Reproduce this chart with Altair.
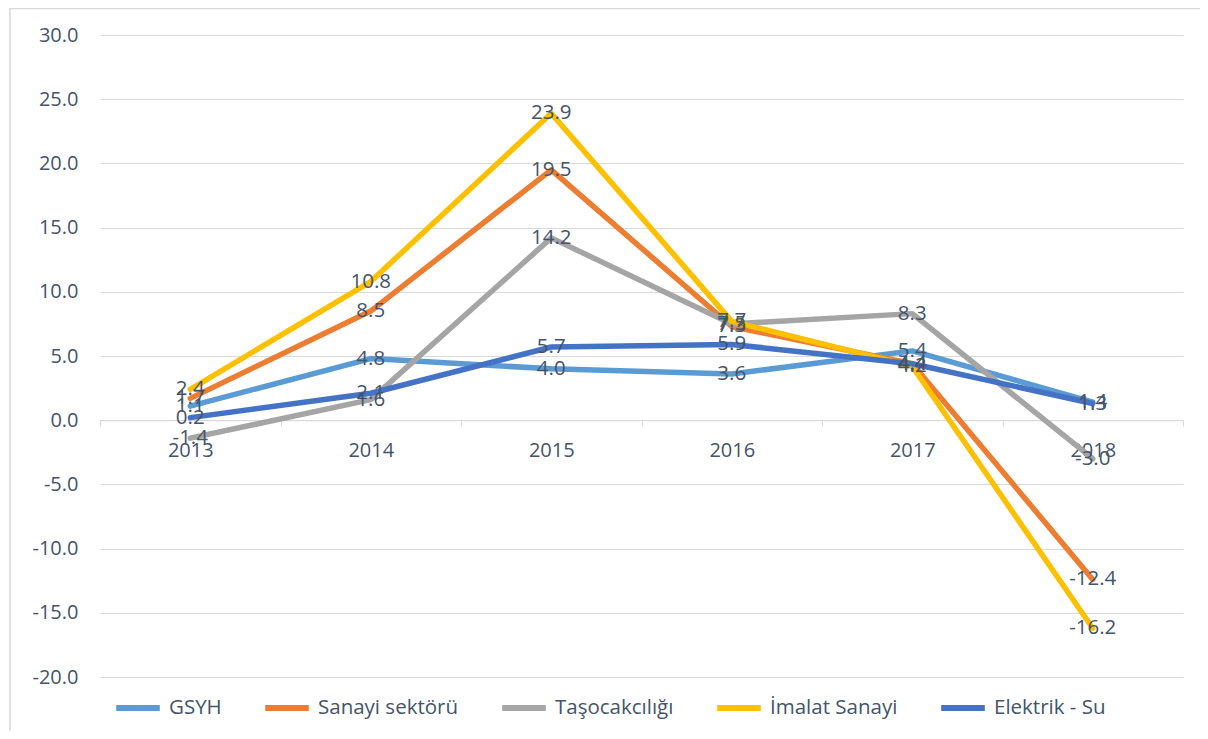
import altair as alt
import pandas as pd

years = ["2013", "2014", "2015", "2016", "2017", "2018"]
series = ["GSYH", "Sanayi sektörü", "Taşocakcılığı", "İmalat Sanayi", "Elektrik - Su"]
gsyh = [1.1, 4.8, 4.0, 3.6, 5.4, 1.4]
sanayi = [1.7, 8.5, 19.5, 7.3, 4.4, -12.4]
tasocak = [-1.4, 1.6, 14.2, 7.5, 8.3, -3.0]
imalat = [2.4, 10.8, 23.9, 7.7, 4.2, -16.2]
elektrik = [0.2, 2.1, 5.7, 5.9, 4.4, 1.3]
colors = ["#5B9BD5", "#ED7D31", "#A5A5A5", "#FFC000", "#4472C4"]
y_ticks = [-20, -15, -10, -5, 0, 5, 10, 15, 20, 25, 30]

values = [gsyh, sanayi, tasocak, imalat, elektrik]
rows = []
for i, s in enumerate(series):
    for j, yr in enumerate(years):
        rows.append({"year": yr, "series": s, "value": values[i][j], "order": i})
df = pd.DataFrame(rows)

FONT = "Open Sans"
TXT = "#44546A"
GRID = "#D9D9D9"
W, H = 1083, 642

x_enc = alt.X(
    "year:N",
    sort=years,
    scale=alt.Scale(type="band", paddingInner=0, paddingOuter=0),
    axis=alt.Axis(
        title=None, labelAngle=0, grid=False, domainColor=GRID, tickColor=GRID,
        tickSize=6, tickBand="extent", labelPadding=14, labelFontSize=20,
        labelFont=FONT, labelColor=TXT, offset=-H * 20 / 50,
    ),
)
y_enc = alt.Y(
    "value:Q",
    scale=alt.Scale(domain=[-20, 30], nice=False, zero=False),
    axis=alt.Axis(
        title=None, values=y_ticks, format=".1f", domain=False, ticks=False,
        gridColor=GRID, gridWidth=1, labelPadding=22, labelFontSize=20,
        labelFont=FONT, labelColor=TXT,
    ),
)

base = alt.Chart(df)

lines = base.mark_line(strokeWidth=5.5, strokeCap="round", strokeJoin="round").encode(
    x=x_enc,
    y=y_enc,
    color=alt.Color(
        "series:N",
        sort=series,
        scale=alt.Scale(domain=series, range=colors),
        legend=alt.Legend(
            title=None, orient="none", direction="horizontal", columns=5,
            legendX=13, legendY=648, symbolType="stroke", symbolSize=1900,
            symbolStrokeWidth=6, labelFontSize=20.5, labelFont=FONT, labelColor=TXT,
            labelOffset=6, columnPadding=31, padding=0,
        ),
    ),
    order=alt.Order("order:Q"),
)

labels = base.mark_text(font=FONT, fontSize=20.5, color=TXT, align="center", baseline="middle").encode(
    x=alt.X("year:N", sort=years),
    y=alt.Y("value:Q"),
    text=alt.Text("value:Q", format=".1f"),
    detail="series:N",
)

frame_df = pd.DataFrame({"k": [0]})
left_border = alt.Chart(frame_df).mark_rule(color=GRID, strokeWidth=1.5).encode(
    x=alt.value(-90), x2=alt.value(-90), y=alt.value(-27), y2=alt.value(H + 54)
)
top_border = alt.Chart(frame_df).mark_rule(color=GRID, strokeWidth=1.5).encode(
    x=alt.value(-90), x2=alt.value(W + 17), y=alt.value(-26.5), y2=alt.value(-26.5)
)

chart = alt.layer(lines, labels, left_border, top_border).properties(
    width=W,
    height=H,
    autosize=alt.AutoSizeParams(type="none"),
    padding={"left": 92, "top": 27, "right": 17, "bottom": 54},
).configure(
    locale=alt.Locale(
        number=alt.NumberLocale(
            decimal=".", thousands=",", grouping=[3], currency=["", ""], minus="-"
        )
    )
).configure_view(
    stroke=None
)

chart.save("out.html", embed_options={"renderer": "svg", "actions": False})
